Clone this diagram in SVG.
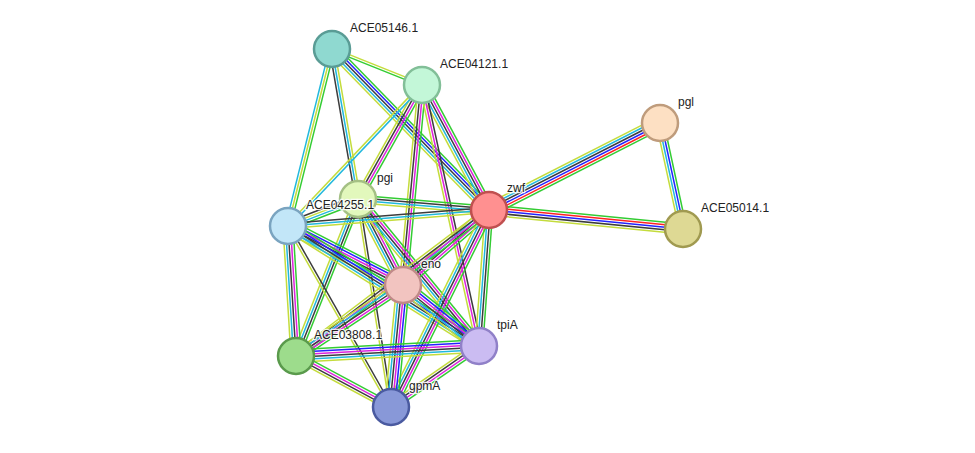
<svg xmlns="http://www.w3.org/2000/svg" xmlns:xlink="http://www.w3.org/1999/xlink" width="975" height="453" viewBox="0 0 975 453">
<style>
line{stroke-width:1.5}
.g{stroke:#33cc33}.c{stroke:#22b8dd}.k{stroke:#3c3c3c}.m{stroke:#dd22dd}.y{stroke:#c4dc3c}.b{stroke:#2222ff}.r{stroke:#ff2222}
.n circle{stroke-width:2.5}
text{font-family:"Liberation Sans",Arial,sans-serif;font-size:12px;fill:#222;stroke:#fff;stroke-width:2.5px;stroke-opacity:0.85;paint-order:stroke}
</style>
<defs>
<g id="e2a"><line class="y" x2="100" y1="-1.25" y2="-1.25"/><line class="g" x2="100" y1="1.25" y2="1.25"/></g>
<g id="e2b"><line class="c" x2="100" y1="-1.25" y2="-1.25"/><line class="y" x2="100" y1="1.25" y2="1.25"/></g>
<g id="e2c"><line class="k" x2="100" y1="-1.25" y2="-1.25"/><line class="y" x2="100" y1="1.25" y2="1.25"/></g>
<g id="e3a"><line class="y" x2="100" y1="-2.5" y2="-2.5"/><line class="c" x2="100"/><line class="k" x2="100" y1="2.5" y2="2.5"/></g>
<g id="e3b"><line class="g" x2="100" y1="-2.5" y2="-2.5"/><line class="y" x2="100"/><line class="c" x2="100" y1="2.5" y2="2.5"/></g>
<g id="e3c"><line class="k" x2="100" y1="-2.5" y2="-2.5"/><line class="m" x2="100"/><line class="y" x2="100" y1="2.5" y2="2.5"/></g>
<g id="e3d"><line class="k" x2="100" y1="-2.5" y2="-2.5"/><line class="c" x2="100"/><line class="y" x2="100" y1="2.5" y2="2.5"/></g>
<g id="e4a"><line class="g" x2="100" y1="-3.75" y2="-3.75"/><line class="m" x2="100" y1="-1.25" y2="-1.25"/><line class="k" x2="100" y1="1.25" y2="1.25"/><line class="y" x2="100" y1="3.75" y2="3.75"/></g>
<g id="e4b"><line class="g" x2="100" y1="-3.75" y2="-3.75"/><line class="k" x2="100" y1="-1.25" y2="-1.25"/><line class="c" x2="100" y1="1.25" y2="1.25"/><line class="y" x2="100" y1="3.75" y2="3.75"/></g>
<g id="e4c"><line class="g" x2="100" y1="-3.75" y2="-3.75"/><line class="c" x2="100" y1="-1.25" y2="-1.25"/><line class="y" x2="100" y1="1.25" y2="1.25"/><line class="k" x2="100" y1="3.75" y2="3.75"/></g>
<g id="e4d"><line class="g" x2="100" y1="-3.75" y2="-3.75"/><line class="b" x2="100" y1="-1.25" y2="-1.25"/><line class="c" x2="100" y1="1.25" y2="1.25"/><line class="y" x2="100" y1="3.75" y2="3.75"/></g>
<g id="e5a"><line class="g" x2="100" y1="-5" y2="-5"/><line class="m" x2="100" y1="-2.5" y2="-2.5"/><line class="k" x2="100"/><line class="c" x2="100" y1="2.5" y2="2.5"/><line class="y" x2="100" y1="5" y2="5"/></g>
<g id="e5b"><line class="g" x2="100" y1="-5" y2="-5"/><line class="b" x2="100" y1="-2.5" y2="-2.5"/><line class="k" x2="100"/><line class="c" x2="100" y1="2.5" y2="2.5"/><line class="y" x2="100" y1="5" y2="5"/></g>
<g id="e5c"><line class="g" x2="100" y1="-5" y2="-5"/><line class="r" x2="100" y1="-2.5" y2="-2.5"/><line class="b" x2="100"/><line class="k" x2="100" y1="2.5" y2="2.5"/><line class="y" x2="100" y1="5" y2="5"/></g>
<g id="e6a"><line class="g" x2="100" y1="-6.25" y2="-6.25"/><line class="b" x2="100" y1="-3.75" y2="-3.75"/><line class="m" x2="100" y1="-1.25" y2="-1.25"/><line class="k" x2="100" y1="1.25" y2="1.25"/><line class="c" x2="100" y1="3.75" y2="3.75"/><line class="y" x2="100" y1="6.25" y2="6.25"/></g>
<g id="e6b"><line class="g" x2="100" y1="6.25" y2="6.25"/><line class="r" x2="100" y1="3.75" y2="3.75"/><line class="b" x2="100" y1="1.25" y2="1.25"/><line class="k" x2="100" y1="-1.25" y2="-1.25"/><line class="c" x2="100" y1="-3.75" y2="-3.75"/><line class="y" x2="100" y1="-6.25" y2="-6.25"/></g>
</defs>
<rect width="975" height="453" fill="#fff"/>
<g id="edges">
<use href="#e2a" transform="translate(332 49) rotate(21.8) scale(0.969 1)"/>
<use href="#e3a" transform="translate(332 49) rotate(80.2) scale(1.522 1)"/>
<use href="#e3b" transform="translate(332 49) rotate(103.96) scale(1.824 1)"/>
<use href="#e5b" transform="translate(332 49) rotate(45.7) scale(2.249 1)"/>
<use href="#e4a" transform="translate(422 85) rotate(119.3) scale(1.307 1)"/>
<use href="#e2b" transform="translate(422 85) rotate(133.5) scale(1.945 1)"/>
<use href="#e5a" transform="translate(422 85) rotate(61.8) scale(1.418 1)"/>
<use href="#e4a" transform="translate(422 85) rotate(95.4) scale(2.009 1)"/>
<use href="#e3c" transform="translate(422 85) rotate(77.7) scale(2.672 1)"/>
<use href="#e4b" transform="translate(358 199) rotate(4.8) scale(1.315 1)"/>
<use href="#e4c" transform="translate(358 199) rotate(158.9) scale(0.75 1)"/>
<use href="#e5a" transform="translate(358 199) rotate(62.4) scale(0.971 1)"/>
<use href="#e5a" transform="translate(358 199) rotate(50.5) scale(1.904 1)"/>
<use href="#e4b" transform="translate(358 199) rotate(111.6) scale(1.688 1)"/>
<use href="#e2c" transform="translate(358 199) rotate(81.0) scale(2.106 1)"/>
<use href="#e3d" transform="translate(288 226) rotate(-4.55) scale(2.016 1)"/>
<use href="#e6a" transform="translate(288 226) rotate(27.2) scale(1.293 1)"/>
<use href="#e5b" transform="translate(288 226) rotate(32.1) scale(2.256 1)"/>
<use href="#e5a" transform="translate(288 226) rotate(86.5) scale(1.302 1)"/>
<use href="#e2c" transform="translate(288 226) rotate(60.4) scale(2.083 1)"/>
<use href="#e6b" transform="translate(489 210) rotate(-27.0) scale(1.919 1)"/>
<use href="#e5c" transform="translate(489 210) rotate(5.6) scale(1.949 1)"/>
<use href="#e5a" transform="translate(489 210) rotate(138.9) scale(1.141 1)"/>
<use href="#e4b" transform="translate(489 210) rotate(94.2) scale(1.364 1)"/>
<use href="#e5a" transform="translate(489 210) rotate(116.4) scale(2.2 1)"/>
<use href="#e4a" transform="translate(489 210) rotate(142.9) scale(2.42 1)"/>
<use href="#e4d" transform="translate(660 123) rotate(77.8) scale(1.085 1)"/>
<use href="#e5a" transform="translate(403 285) rotate(146.4) scale(1.284 1)"/>
<use href="#e6a" transform="translate(403 285) rotate(38.75) scale(0.975 1)"/>
<use href="#e6a" transform="translate(403 285) rotate(95.6) scale(1.226 1)"/>
<use href="#e6a" transform="translate(296 356) rotate(-3.1) scale(1.833 1)"/>
<use href="#e4a" transform="translate(296 356) rotate(28.2) scale(1.078 1)"/>
<use href="#e4a" transform="translate(479 346) rotate(145.3) scale(1.071 1)"/>
</g>
<g id="ACE05146.1" class="n"><circle cx="332" cy="49" r="18" fill="#8fd9d0" stroke="#5a9c95"/><text x="350" y="32">ACE05146.1</text></g>
<g id="ACE04121.1" class="n"><circle cx="422" cy="85" r="18" fill="#c3f7d8" stroke="#82bf98"/><text x="440" y="68">ACE04121.1</text></g>
<g id="pgl" class="n"><circle cx="660" cy="123" r="18" fill="#fde0c3" stroke="#bf9c7c"/><text x="678" y="106">pgl</text></g>
<g id="pgi" class="n"><circle cx="358" cy="199" r="18" fill="#e2f8bc" stroke="#a4c084"/><text x="377" y="182">pgi</text></g>
<g id="zwf" class="n"><circle cx="489" cy="210" r="18" fill="#ff9090" stroke="#c05050"/><text x="507" y="192">zwf</text></g>
<g id="ACE04255.1" class="n"><circle cx="288" cy="226" r="18" fill="#c2e6f8" stroke="#7aa4c0"/><text x="306" y="209">ACE04255.1</text></g>
<g id="ACE05014.1" class="n"><circle cx="683" cy="229" r="18" fill="#ded994" stroke="#a09a50"/><text x="701" y="212">ACE05014.1</text></g>
<g id="eno" class="n"><circle cx="403" cy="285" r="18" fill="#f2c4c0" stroke="#c08a88"/><text x="421" y="268">eno</text></g>
<g id="ACE03808.1" class="n"><circle cx="296" cy="356" r="18" fill="#9ddc8c" stroke="#5a9a4c"/><text x="314" y="339">ACE03808.1</text></g>
<g id="tpiA" class="n"><circle cx="479" cy="346" r="18" fill="#cbbcf2" stroke="#9080c8"/><text x="497" y="329">tpiA</text></g>
<g id="gpmA" class="n"><circle cx="391" cy="407" r="18" fill="#8898d8" stroke="#4a5aa0"/><text x="409" y="390">gpmA</text></g>
</svg>
